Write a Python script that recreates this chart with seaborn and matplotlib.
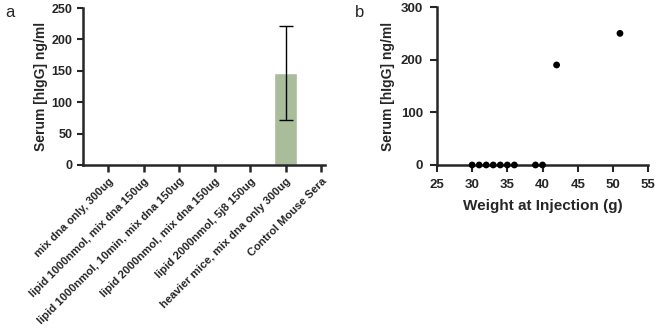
import matplotlib
matplotlib.use("Agg")
import matplotlib.pyplot as plt
import seaborn as sns
import pandas as pd

# Panel a data
groups = ['mix dna only, 300ug',
          'lipid 1000nmol, mix dna 150ug',
          'lipid 1000nmol, 10min, mix dna 150ug',
          'lipid 2000nmol, mix dna 150ug',
          'lipid 2000nmol, 5j8 150ug',
          'heavier mice, mix dna only 300ug',
          'Control Mouse Sera']
means = [0, 0, 0, 0, 0, 146, 0]
errs = [0, 0, 0, 0, 0, 75, 0]

# Panel b data
weights = [30, 31, 32, 33, 34, 35, 36, 39, 40, 42, 51]
serum = [0, 0, 0, 0, 0, 0, 0, 0, 0, 190, 250]

sns.set_style("ticks")
plt.rcParams['font.family'] = ['Liberation Sans', 'DejaVu Sans']
plt.rcParams['font.weight'] = 'bold'

fig = plt.figure(figsize=(6.6, 3.36), dpi=100)
ax1 = fig.add_axes([0.126, 0.509, 0.366, 0.467])
ax2 = fig.add_axes([0.662, 0.509, 0.320, 0.470])

df = pd.DataFrame({'group': groups, 'mean': means})
sns.barplot(data=df, x='group', y='mean', color='#a9bd9b', saturation=1,
            width=0.65, ax=ax1)
for i, (m, e) in enumerate(zip(means, errs)):
    if e > 0:
        ax1.errorbar(i, m, yerr=e, color='black', capsize=5, elinewidth=1, capthick=1)
ax1.set_xlim(-0.7, 6.1)
ax1.set_ylim(0, 250)
ax1.set_yticks([0, 50, 100, 150, 200, 250])
ax1.set_xlabel('')
ax1.set_ylabel('Serum [hIgG] ng/ml', fontsize=10, fontweight='bold', labelpad=3)
ax1.set_xticks(range(len(groups)))
ax1.set_xticklabels(groups, rotation=45, ha='right', rotation_mode='anchor',
                    fontsize=8.1, fontweight='bold')
ax1.tick_params(axis='y', labelsize=9, width=1.5, length=4)
ax1.tick_params(axis='x', width=1.8, length=5, pad=3)

sns.scatterplot(x=weights, y=serum, color='black', s=24, edgecolor='none', ax=ax2,
                clip_on=False, zorder=3)
ax2.set_xlim(25, 55)
ax2.set_ylim(0, 300)
ax2.set_xticks([25, 30, 35, 40, 45, 50, 55])
ax2.set_yticks([0, 100, 200, 300])
ax2.set_xlabel('Weight at Injection (g)', fontsize=11, fontweight='bold', labelpad=6)
ax2.set_ylabel('Serum [hIgG] ng/ml', fontsize=10, fontweight='bold', labelpad=4)
ax2.tick_params(labelsize=9.5, width=1.5, length=5, pad=5)

for ax in (ax1, ax2):
    sns.despine(ax=ax)
    for s in ('left', 'bottom'):
        ax.spines[s].set_linewidth(1.8)
    for lbl in ax.get_yticklabels() + ax.get_xticklabels():
        lbl.set_fontweight('bold')

fig.text(0.008, 0.95, 'a', fontsize=12, fontweight='normal')
fig.text(0.538, 0.95, 'b', fontsize=12, fontweight='normal')

fig.savefig('out.png', dpi=100)
